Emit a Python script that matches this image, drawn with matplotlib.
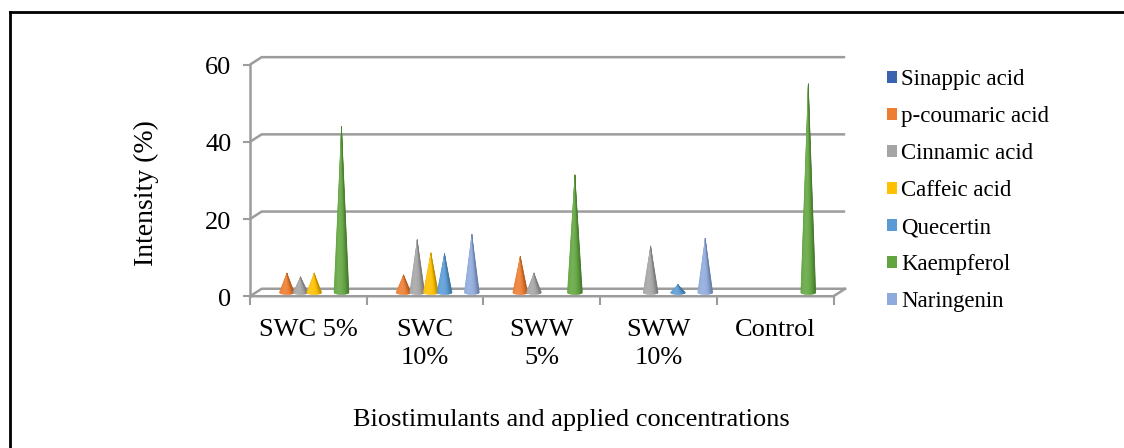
import numpy as np
import matplotlib
matplotlib.use('Agg')
import matplotlib.pyplot as plt
from matplotlib.patches import Patch
from matplotlib.collections import PolyCollection
from matplotlib.colors import to_rgb
from matplotlib.lines import Line2D

plt.rcParams['font.family'] = ['Liberation Serif', 'DejaVu Serif']

# 数据
categories = ['SWC 5%', 'SWC\n10%', 'SWW\n5%', 'SWW\n10%', 'Control']
series = ['Sinappic acid', 'p-coumaric acid', 'Cinnamic acid', 'Caffeic acid',
          'Quecertin', 'Kaempferol', 'Naringenin']
colors = ['#3A63B0', '#ED7D31', '#A5A5A5', '#FFC000', '#5B9BD5', '#62A540', '#8FAADC']
sinappic = [0, 0, 0, 0, 0]
coumaric = [5, 4.5, 9.3, 0, 0]
cinnamic = [4, 13.6, 5, 12, 0]
caffeic = [5, 10.2, 0, 0, 0]
quecertin = [0, 10, 0, 2, 0]
kaempferol = [43, 0, 30.4, 0, 54]
naringenin = [0, 15, 0, 14, 0]
values = [sinappic, coumaric, cinnamic, caffeic, quecertin, kaempferol, naringenin]
yticks = [0, 20, 40, 60]

# 三维效果的偏移（半个深度）
dxh, dyh = 0.05, 0.97
grid_c = '#9c9c9c'


def shade(c, f):
    c = np.array(to_rgb(c))
    if f >= 1:
        return tuple(c + (1 - c) * min(f - 1, 1))
    return tuple(c * f)


def cone(ax, xc, v, color, w=0.064, e=0.5, n=24):
    # 圆锥：从顶点到底边的细三角形，带明暗
    u = np.linspace(-1, 1, n + 1)
    bx = xc + u * w
    by = -e * np.sqrt(np.clip(1 - u ** 2, 0, 1))
    polys, fcs = [], []
    for k in range(n):
        polys.append([(xc, v), (bx[k], by[k]), (bx[k + 1], by[k + 1])])
        t = (u[k] + u[k + 1]) / 2
        f = 1.12 - 0.4 * ((t + 0.3) / 1.3) ** 2
        fcs.append(shade(color, f))
    pc = PolyCollection(polys, facecolors=fcs, edgecolors=fcs, linewidths=0.4, zorder=5)
    ax.add_collection(pc)


fig = plt.figure(figsize=(11.24, 4.48), dpi=100)
L, R, T, B = 240, 860, 50, 305
ax = fig.add_axes([L / 1124, (448 - B) / 448, (R - L) / 1124, (B - T) / 448])
ax.set_xlim((L - 250) / 116.7, (R - 250) / 116.7)
ax.set_ylim((292.5 - B) / 3.86, (292.5 - T) / 3.86)
ax.axis('off')

n_cat = len(categories)
# 背景网格线 + 斜线
for v in yticks:
    ax.plot([0, 2 * dxh, n_cat + 2 * dxh], [v - dyh, v + dyh, v + dyh],
            color=grid_c, lw=1.8, zorder=1, solid_capstyle='butt')
    ax.plot([-0.055, 0], [v - dyh, v - dyh], color=grid_c, lw=1.5, zorder=1)
    ax.text(-0.16, v - dyh - 0.9, str(v), ha='right', va='center', fontsize=19)
# 底面
ax.plot([0, n_cat, n_cat + 2 * dxh], [-dyh, -dyh, dyh], color=grid_c, lw=1.8, zorder=2)
# y轴
ax.plot([0, 0], [-dyh, 60 - dyh], color=grid_c, lw=1.8, zorder=2)
# x刻度
for c in range(n_cat + 1):
    ax.plot([c, c], [-dyh, -dyh - 2.2], color=grid_c, lw=1.5, zorder=2)

# 圆锥
for i, s in enumerate(series):
    for c in range(n_cat):
        v = values[i][c]
        if v > 0:
            cone(ax, c + 0.5 + dxh + (i - 3) * 0.117, v, colors[i])

# x刻度标签
for c, lab in enumerate(categories):
    ax.text(c + 0.5, -dyh - 5.8, lab, ha='center', va='top', fontsize=19, linespacing=1.38)

fig.text(571 / 1124, 1 - 420 / 448, 'Biostimulants and applied concentrations',
         ha='center', va='center', fontsize=19)
fig.text(146 / 1124, 1 - 193 / 448, 'Intensity (%)', ha='center', va='center',
         rotation=90, fontsize=20)

handles = [Patch(facecolor=colors[i], edgecolor='none', label=s) for i, s in enumerate(series)]
fig.legend(handles=handles, loc='upper left', bbox_to_anchor=(878 / 1124, 1 - 60 / 448),
           frameon=False, fontsize=16.5, handlelength=0.42, handleheight=0.42,
           handletextpad=0.2, labelspacing=0.7, borderaxespad=0)

# 外框（只看得到左边和上边）
fig.add_artist(Line2D([10 / 1124, 1], [1 - 12 / 448, 1 - 12 / 448], color='black', lw=2))
fig.add_artist(Line2D([10 / 1124, 10 / 1124], [0, 1 - 12 / 448], color='black', lw=2))

fig.savefig('out.png', dpi=100)
